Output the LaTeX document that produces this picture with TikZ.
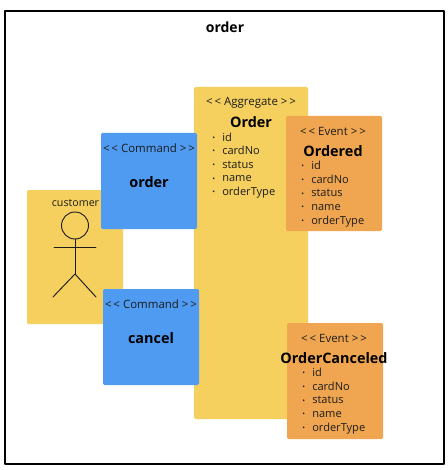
\documentclass[tikz,border=0pt]{standalone}
\usepackage{fontspec}
\setmainfont{Open Sans}
\definecolor{stickyyellow}{HTML}{F6D05F}
\definecolor{stickyblue}{HTML}{4F9BF2}
\definecolor{stickyorange}{HTML}{F0A650}
\definecolor{inkdark}{HTML}{1C1C1C}
\newcommand{\fieldrow}[1]{\makebox[7.5pt][l]{\raisebox{0.6pt}{\fontsize{5.5}{5}\selectfont\textbullet}}#1}
\newcommand{\fieldrows}{\fieldrow{id}\\\fieldrow{cardNo}\\\fieldrow{status}\\\fieldrow{name}\\\fieldrow{orderType}}
\begin{document}
\begin{tikzpicture}[x=0.75pt,y=-0.75pt,line cap=round,line join=round]
  \tikzset{sticky/.style={rounded corners=1pt,inner sep=0pt},
    stereotype/.style={font=\fontsize{8.6}{10}\selectfont,text=inkdark,inner sep=0pt},
    stickytitle/.style={font=\fontsize{10.8}{13}\selectfont\bfseries,text=black,inner sep=0pt},
    fieldlist/.style={font=\fontsize{8.3}{10.2}\selectfont,text=inkdark,align=left,anchor=north west,inner sep=0pt}}
  \useasboundingbox (0,0) rectangle (448,470);
  \fill[white] (0,0) rectangle (448,470);
  % Frame
  \draw[black,line width=1pt] (5,11) rectangle (444,464);
  \node[stickytitle,font=\fontsize{10.5}{13}\selectfont\bfseries] (frametitle) at (225,27) {order};
  % Customer
  \fill[sticky,stickyyellow] (27,190) rectangle (123,324);
  \node[stereotype,font=\fontsize{8}{10}\selectfont] (customer) at (75.5,203) {customer};
  \draw[inkdark,line width=0.7pt] (75,225.5) circle (13.5);
  \draw[inkdark,line width=0.7pt] (54,247)--(96,247);
  \draw[inkdark,line width=0.7pt] (75,239)--(75,274);
  \draw[inkdark,line width=0.7pt] (53,297)--(75,274)--(96,297);
  % Aggregate
  \fill[sticky,stickyyellow] (194,87) rectangle (308,419);
  \node[stereotype] (aggregate) at (251,103) {<\,< Aggregate >\,>};
  \node[stickytitle] (ordername) at (251,122) {Order};
  \node[fieldlist] (orderfields) at (212,132.5) {\fieldrows};
  % Commands
  \foreach \nm/\cx/\cy/\title in {order/149/133/order,cancel/151/289/cancel}{
    \fill[sticky,stickyblue] ({\cx-48},\cy) rectangle ({\cx+48},{\cy+96});
    \node[stereotype] (\nm stereo) at (\cx,{\cy+15}) {<\,< Command >\,>};
    \node[stickytitle] (\nm name) at (\cx,{\cy+49}) {\title};
  }
  % Events
  \foreach \nm/\cx/\cy/\h/\title in {ordered/334/116/115/Ordered,canceled/335/323/116/OrderCanceled}{
    \fill[sticky,stickyorange] ({\cx-48},\cy) rectangle ({\cx+48},{\cy+\h});
    \node[stereotype] (\nm stereo) at ({\cx-1},{\cy+15}) {<\,< Event >\,>};
    \node[stickytitle] (\nm name) at ({\cx-1},{\cy+35}) {\title};
    \node[fieldlist] (\nm fields) at ({\cx-33},{\cy+45}) {\fieldrows};
  }
\end{tikzpicture}
\end{document}
